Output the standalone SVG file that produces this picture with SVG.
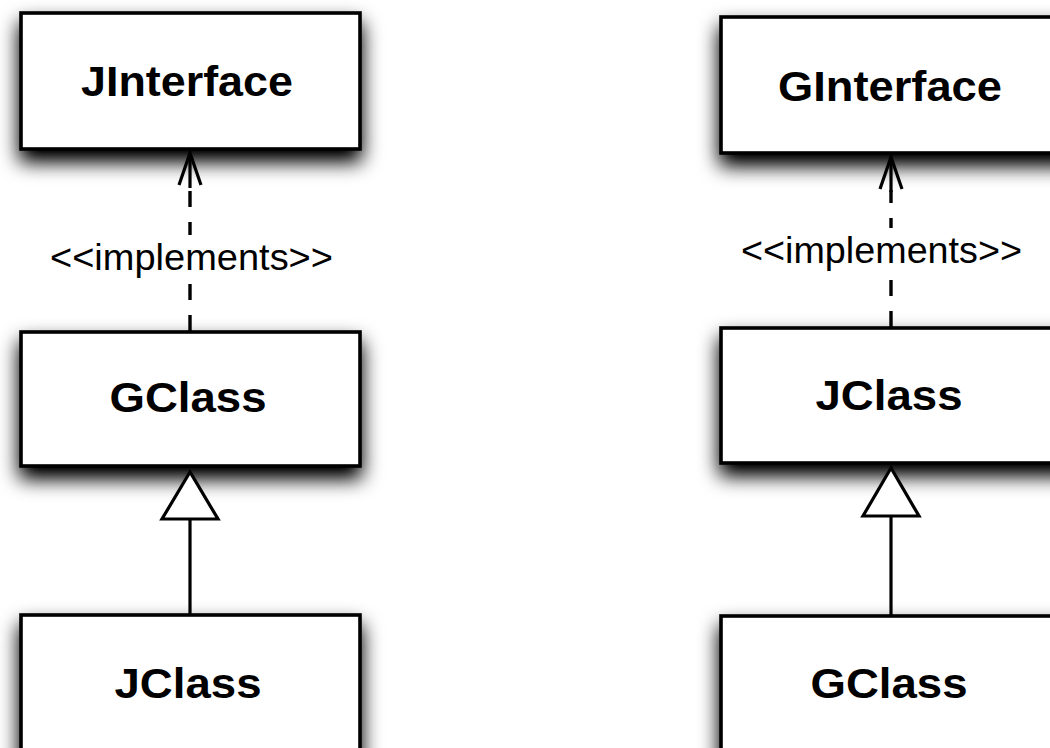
<svg xmlns="http://www.w3.org/2000/svg" width="1050" height="748" viewBox="0 0 1050 748">
<style>
.box{fill:#fff;stroke:#000;stroke-width:3.6;filter:url(#shadow)}
.title{font-family:"Liberation Sans",Arial,Helvetica,sans-serif;font-weight:bold;font-size:43px;fill:#000;text-anchor:middle}
.lbl{font-family:"Liberation Sans",Arial,Helvetica,sans-serif;font-size:36px;fill:#000;text-anchor:middle}
.dash{stroke:#000;stroke-width:3.4;fill:none;stroke-dasharray:16 15}
.solid{stroke:#000;stroke-width:3.2;fill:none}
.head{stroke:#000;stroke-width:3.2;fill:none;stroke-linejoin:miter}
.tri{stroke:#000;stroke-width:3.2;fill:#fff;stroke-linejoin:miter}
.bg{fill:#fff}
</style>
<defs>
<filter id="shadow" x="-15%" y="-35%" width="130%" height="180%">
<feGaussianBlur in="SourceAlpha" stdDeviation="10"/>
<feOffset dx="0" dy="11" result="b"/>
<feComponentTransfer><feFuncA type="linear" slope="1.1"/></feComponentTransfer>
<feMerge><feMergeNode/><feMergeNode in="SourceGraphic"/></feMerge>
</filter>
</defs>
<rect width="1050" height="748" fill="#fff"/>
<g id="JInterface"><rect class="box" x="21" y="13" width="339" height="136"/><text class="title" x="187" y="96" textLength="212" lengthAdjust="spacingAndGlyphs">JInterface</text></g>
<g id="GClass-left"><rect class="box" x="21" y="332" width="339" height="134"/><text class="title" x="188" y="412" textLength="157" lengthAdjust="spacingAndGlyphs">GClass</text></g>
<g id="JClass-left"><rect class="box" x="21" y="615" width="339" height="200"/><text class="title" x="188" y="698" textLength="147" lengthAdjust="spacingAndGlyphs">JClass</text></g>
<g id="GInterface"><rect class="box" x="721" y="17" width="400" height="136"/><text class="title" x="890" y="101" textLength="224" lengthAdjust="spacingAndGlyphs">GInterface</text></g>
<g id="JClass-right"><rect class="box" x="721" y="328" width="400" height="135"/><text class="title" x="889" y="410" textLength="147" lengthAdjust="spacingAndGlyphs">JClass</text></g>
<g id="GClass-right"><rect class="box" x="721" y="616" width="400" height="200"/><text class="title" x="889" y="698" textLength="157" lengthAdjust="spacingAndGlyphs">GClass</text></g>
<g id="connectors">
<line class="dash" x1="190" y1="331" x2="190" y2="187"/>
<line class="solid" x1="190" y1="153" x2="190" y2="188"/>
<polyline class="head" points="179,185 190,153 201,185"/>
<rect class="bg" x="48" y="235" width="288" height="46"/>
<text class="lbl" x="191.5" y="270" textLength="283" lengthAdjust="spacingAndGlyphs">&lt;&lt;implements&gt;&gt;</text>
<line class="solid" x1="190" y1="519" x2="190" y2="615"/>
<polygon class="tri" points="190,472 162,519 218,519"/>
<line class="dash" x1="891" y1="327" x2="891" y2="190"/>
<line class="solid" x1="891" y1="157" x2="891" y2="192"/>
<polyline class="head" points="880,189 891,157 902,189"/>
<rect class="bg" x="738" y="228" width="288" height="52"/>
<text class="lbl" x="881.5" y="263" textLength="281" lengthAdjust="spacingAndGlyphs">&lt;&lt;implements&gt;&gt;</text>
<line class="solid" x1="891" y1="516" x2="891" y2="616"/>
<polygon class="tri" points="891,468 863,516 919,516"/>
</g>
</svg>
